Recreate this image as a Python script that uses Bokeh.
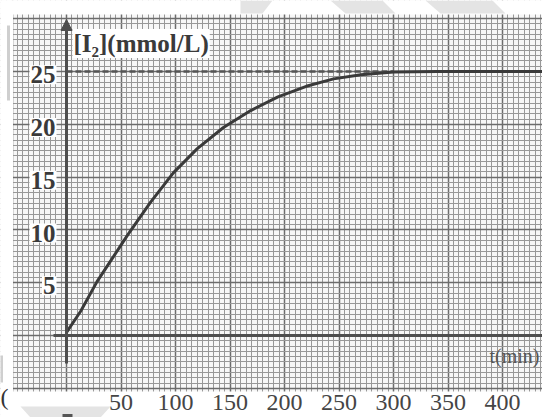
from bokeh.plotting import figure
from bokeh.models import (Range1d, SingleIntervalTicker, Grid, Arrow, NormalHead,
                          ColumnDataSource)
from bokeh.core.properties import value
from bokeh.embed import file_html
from bokeh.resources import INLINE

# ---- data ----
t_min = [0, 13, 28, 56, 77, 98, 120, 144, 169, 194, 220, 245, 270, 300, 340, 440]
i2_mmol = [0.3, 2.3, 5.1, 9.5, 12.6, 15.4, 17.7, 19.7, 21.3, 22.6, 23.6, 24.3, 24.7, 24.95, 25.0, 25.0]
plateau = 25
x_ticks = [50, 100, 150, 200, 250, 300, 350, 400]
x_tick_labels = ["50", "100", "150", "200", "250", "300", "350", "400"]
y_ticks = [5, 10, 15, 20, 25]
y_tick_labels = ["5", "10", "15", "20", "25"]
y_title = "[I₂](mmol/L)"
x_title = "t(min)"

SERIF = "Liberation Serif"
W, H = 542, 417
X0, KX = 66.0, 1.09      # pixel of t=0, pixels per minute
Y0, KY = 335.0, 10.56    # pixel of c=0, pixels per mmol/L


def tx(px):
    return (px - X0) / KX


def ty(py):
    return (Y0 - py) / KY


p = figure(width=W, height=H, output_backend="svg", toolbar_location=None,
           x_range=Range1d(tx(0), tx(W)), y_range=Range1d(ty(H), ty(0)),
           x_axis_location=None, y_axis_location=None,
           min_border=0, min_border_left=0, min_border_right=0,
           min_border_top=0, min_border_bottom=0)
p.outline_line_color = None
p.background_fill_color = "#f7f7f7"
p.border_fill_color = "white"

# graph-paper grid (major every 50 min / 5 mmol/L, fine every tenth)
xg = Grid(dimension=0, ticker=SingleIntervalTicker(interval=50, num_minor_ticks=10),
          grid_line_color="#6c6c6c", grid_line_width=1.5,
          minor_grid_line_color="#989898", minor_grid_line_width=1)
yg = Grid(dimension=1, ticker=SingleIntervalTicker(interval=5, num_minor_ticks=10),
          grid_line_color="#6c6c6c", grid_line_width=1.5,
          minor_grid_line_color="#989898", minor_grid_line_width=1)
p.add_layout(xg)
p.add_layout(yg)

# white paper outside the printed grid (left, top, bottom)
p.quad(left=[tx(-5), tx(-5), tx(-5)], right=[tx(12.5), tx(W + 5), tx(W + 5)],
       bottom=[ty(H + 5), ty(14), ty(H + 5)], top=[ty(-5), ty(-5), ty(391)],
       fill_color="white", line_color=None)

# light watermark / scan marks
p.patches(xs=[[tx(240), tx(272), tx(262), tx(240)],
              [tx(330), tx(382), tx(395), tx(345)],
              [tx(425), tx(492), tx(505), tx(440)],
              [tx(20), tx(110), tx(100), tx(30)]],
          ys=[[ty(0), ty(0), ty(13), ty(13)],
              [ty(0), ty(0), ty(13), ty(13)],
              [ty(0), ty(0), ty(13), ty(13)],
              [ty(406), ty(406), ty(417), ty(417)]],
          fill_color="#e4e4e4", line_color=None)
p.segment(x0=[tx(8), tx(1)], y0=[ty(25), ty(355)], x1=[tx(8), tx(1)], y1=[ty(100), ty(382)],
          line_color="#cfcfcf", line_width=3)
p.segment(x0=[tx(62)], y0=[ty(415)], x1=[tx(72)], y1=[ty(415)],
          line_color="#555555", line_width=3)

# drawn axes
p.line(x=[tx(53), tx(W + 5)], y=[0, 0], line_color="#4e4e4e", line_width=3)
p.add_layout(Arrow(x_start=0, y_start=ty(363), x_end=0, y_end=ty(19),
                   line_color="#4e4e4e", line_width=3,
                   end=NormalHead(size=11, fill_color="#4e4e4e", line_color="#4e4e4e")))

# dashed plateau line
p.line(x=[0, 300], y=[plateau, plateau], line_color="#555555", line_width=2.5,
       line_dash="6 3")

# curve
p.line(x=t_min, y=i2_mmol, line_color="#3a3a3a", line_width=3)

# y tick labels (inside the grid, with white backs)
src = ColumnDataSource(dict(x=[tx(56)] * len(y_ticks), y=[v - 0.3 for v in y_ticks],
                            text=y_tick_labels))
p.text(x="x", y="y", text="text", source=src, text_align="right",
       text_baseline="middle", text_font=value(SERIF), text_font_size="25px",
       text_font_style="bold", text_color="#3a3a3a",
       background_fill_color="white", padding=1)

# x tick labels (below the grid)
xsrc = ColumnDataSource(dict(x=x_ticks, y=[ty(402)] * len(x_ticks), text=x_tick_labels))
p.text(x="x", y="y", text="text", source=xsrc, text_align="center",
       text_baseline="middle", text_font=value(SERIF), text_font_size="24px",
       text_color="#454545")

# axis titles
p.text(x=[tx(72)], y=[ty(43)], text=[y_title], text_align="left", text_baseline="middle",
       text_font=value(SERIF), text_font_size="25px", text_font_style="bold",
       text_color="#3a3a3a", background_fill_color="white", padding=1)
p.text(x=[tx(489)], y=[ty(355)], text=[x_title], text_align="left", text_baseline="middle",
       text_font=value(SERIF), text_font_size="20px", text_color="#555555")

# stray bracket at the sheet's left edge
p.text(x=[tx(0)], y=[ty(396)], text=["("], text_align="left", text_baseline="middle",
       text_font=value(SERIF), text_font_size="24px", text_color="#333333")

open("out.html", "w").write(file_html(p, INLINE))
